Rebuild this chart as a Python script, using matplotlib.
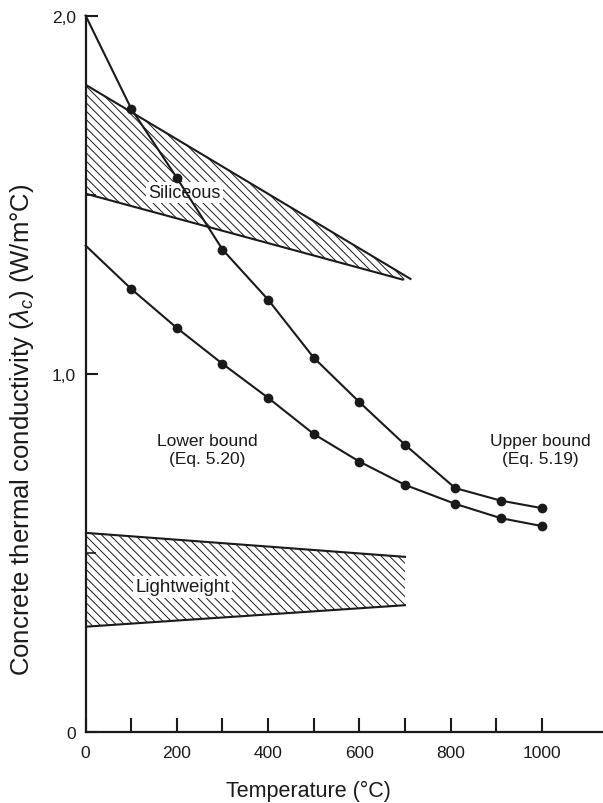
import matplotlib.pyplot as plt
import numpy as np

plt.rcParams['font.family'] = ['Liberation Sans', 'DejaVu Sans']
plt.rcParams['mathtext.fontset'] = 'custom'
plt.rcParams['mathtext.rm'] = 'Liberation Sans'
plt.rcParams['mathtext.it'] = 'Liberation Sans:italic'
plt.rcParams['hatch.linewidth'] = 0.7

# Data
# ----------------------------------------------------------------------------

# upper bound, Eq. 5.19
temp_upper = [0, 100, 200, 300, 400, 500, 600, 700, 810, 910, 1000]
lam_upper = [2.0, 1.74, 1.547, 1.347, 1.207, 1.045, 0.921, 0.802, 0.681, 0.646, 0.625]

# lower bound, Eq. 5.20
temp_lower = [0, 100, 200, 300, 400, 500, 600, 700, 810, 910, 1000]
lam_lower = [1.358, 1.237, 1.128, 1.028, 0.933, 0.832, 0.755, 0.690, 0.637, 0.597, 0.575]

# siliceous aggregate band (upper edge runs a bit further right)
sil_top_temp = [0, 712]
sil_top = [1.807, 1.265]
sil_bot_temp = [0, 695]
sil_bottom = [1.503, 1.263]

# lightweight aggregate band
lw_temp = [0, 700]
lw_top = [0.556, 0.489]
lw_bottom = [0.294, 0.354]

xticks_major = [0, 200, 400, 600, 800, 1000]
xticks_minor = [100, 300, 500, 700, 900]
yticks_major = [0, 1.0, 2.0]
ytick_labels = ['0', '1,0', '2,0']
yticks_minor = [0.5, 1.5]

# Plot
# ----------------------------------------------------------------------------

ink = '#1a1a1a'
fig = plt.figure(figsize=(6.03, 8.04), dpi=100)
ax = fig.add_axes([0.142, 0.0883, 0.858, 0.891])

bands = [(sil_top_temp, sil_top, sil_bot_temp, sil_bottom),
         (lw_temp, lw_top, lw_temp, lw_bottom)]
for tx, top, bx, bot in bands:
    px = np.concatenate([tx, bx[::-1]])
    py = np.concatenate([top, bot[::-1]])
    ax.fill(px, py, facecolor='none', edgecolor=ink, hatch='\\\\\\\\', linewidth=0)
    ax.plot(tx, top, color=ink, lw=1.5)
    ax.plot(bx, bot, color=ink, lw=1.5)

ax.plot(temp_upper, lam_upper, color=ink, lw=1.5, marker='o', ms=6,
        markevery=slice(1, None), clip_on=False, zorder=4)
ax.plot(temp_lower, lam_lower, color=ink, lw=1.5, marker='o', ms=6,
        markevery=slice(1, None), clip_on=False, zorder=4)

box = dict(facecolor='white', edgecolor='none', pad=1.5)
ax.text(216, 1.506, 'Siliceous', ha='center', va='center', fontsize=13,
        color=ink, bbox=box, zorder=3)
ax.text(213, 0.405, 'Lightweight', ha='center', va='center', fontsize=13.5,
        color=ink, bbox=box, zorder=3)
ax.text(266, 0.789, 'Lower bound\n(Eq. 5.20)', ha='center', va='center',
        fontsize=12.5, color=ink)
ax.text(996, 0.789, 'Upper bound\n(Eq. 5.19)', ha='center', va='center',
        fontsize=12.5, color=ink)

ax.set_xlim(0, 1134)
ax.set_ylim(0, 2.0)
for side in ['top', 'right']:
    ax.spines[side].set_visible(False)
for side in ['left', 'bottom']:
    ax.spines[side].set_linewidth(1.6)
    ax.spines[side].set_color(ink)

ax.set_xticks(xticks_major)
ax.set_xticks(xticks_minor, minor=True)
ax.set_yticks(yticks_major, ytick_labels)
ax.set_yticks(yticks_minor, minor=True)
ax.tick_params(axis='x', which='both', direction='in', length=10, width=1.5,
               color=ink, labelsize=12.5, pad=9, labelcolor=ink)
ax.tick_params(axis='y', which='major', direction='in', length=8.5, width=1.5,
               color=ink, labelsize=12.5, pad=7, labelcolor=ink)
ax.tick_params(axis='y', which='minor', direction='in', length=7, width=1.2,
               color=ink)

ax.set_xlabel('Temperature (°C)', fontsize=15.5, color=ink)
ax.xaxis.set_label_coords(0.43, -0.067)
ax.set_ylabel(r'Concrete thermal conductivity ($\lambda_c$) (W/m°C)',
              fontsize=18.5, color=ink)
ax.yaxis.set_label_coords(-0.096, 0.423)

fig.savefig('out.png', dpi=100)
